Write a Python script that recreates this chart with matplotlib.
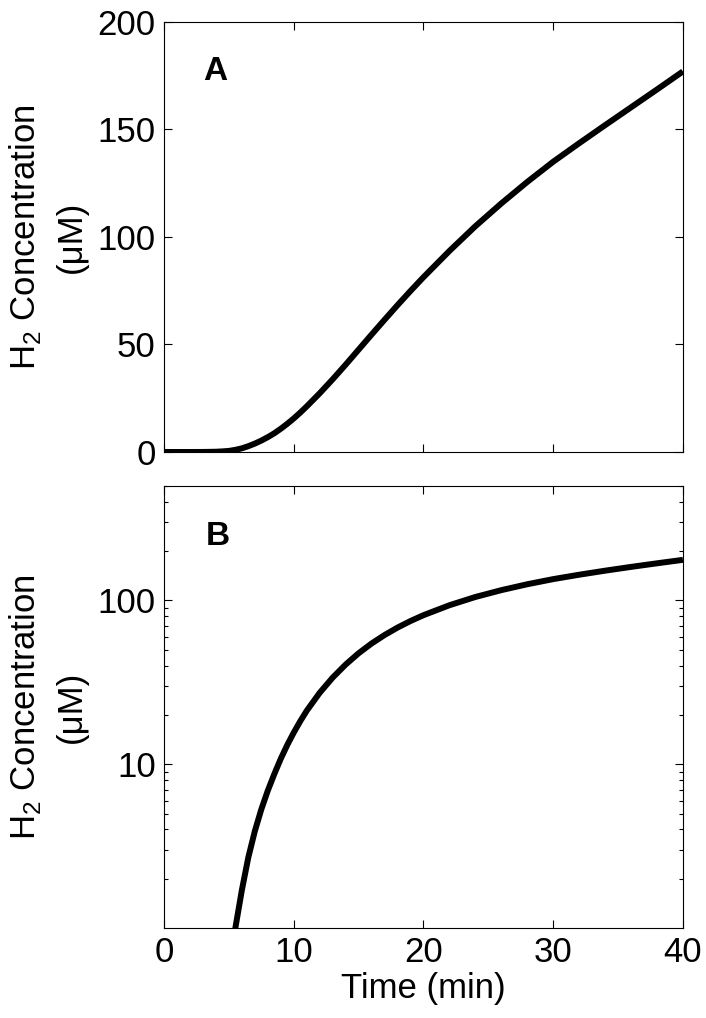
import matplotlib
matplotlib.use("Agg")
import matplotlib.pyplot as plt
from matplotlib.ticker import (FixedFormatter, FixedLocator, LogLocator,
                               NullFormatter)

# H2 concentration time course
time_min = [0, 2, 3, 4, 4.5, 5, 5.5, 6, 6.5, 7, 7.5, 8, 8.5, 9, 9.5, 10,
            10.5, 11, 12, 13, 14, 15, 16, 17, 18, 19, 20, 22, 24, 26, 28,
            30, 32, 34, 36, 38, 40]
h2_um = [0.0, 0.0, 0.02, 0.12, 0.28, 0.5, 1.0, 1.7, 2.7, 3.9, 5.3, 6.9,
         8.7, 10.8, 13.1, 15.6, 18.3, 21.2, 27.3, 33.8, 40.6, 47.6, 54.6,
         61.5, 68.3, 74.9, 81.3, 93.5, 105.0, 115.6, 125.6, 135.0, 143.6,
         152.0, 160.3, 168.6, 177.0]

x_ticks = [0, 10, 20, 30, 40]
lin_ticks = [0, 50, 100, 150, 200]
log_ticks = [10, 100]
log_tick_labels = ["10", "100"]
panel_labels = ["A", "B"]

plt.rcParams["font.family"] = ["Liberation Sans", "DejaVu Sans"]
plt.rcParams["mathtext.fontset"] = "custom"
plt.rcParams["mathtext.rm"] = "Liberation Sans"

tick_fs = 25
label_fs = 25
ylabel = "H$_2$ Concentration\n(\u03bcM)"

fig = plt.figure(figsize=(7.06, 10.18), dpi=100)
ax_a = fig.add_axes([0.2323, 0.556, 0.735, 0.4224])
ax_b = fig.add_axes([0.2323, 0.0884, 0.735, 0.4342])

for ax in (ax_a, ax_b):
    ax.plot(time_min, h2_um, color="black", lw=4.3, solid_capstyle="butt",
            solid_joinstyle="round")
    ax.set_xlim(0, 40)
    ax.xaxis.set_major_locator(FixedLocator(x_ticks))
    ax.tick_params(which="both", direction="in", top=True, right=True,
                   width=0.8, labelsize=tick_fs, pad=6)
    ax.tick_params(which="major", length=6)
    ax.tick_params(which="minor", length=3)
    for s in ax.spines.values():
        s.set_linewidth(0.8)
    ax.set_ylabel(ylabel, fontsize=label_fs, linespacing=1.45,
                  ha="center", va="center")
    ax.yaxis.set_label_coords(-0.225, 0.5)

# panel A - linear
ax_a.set_ylim(0, 200)
ax_a.yaxis.set_major_locator(FixedLocator(lin_ticks))
ax_a.tick_params(labelbottom=False)
ax_a.text(3.0, 177, panel_labels[0], fontsize=24, fontweight="bold",
          ha="left", va="center")

# panel B - log
ax_b.set_yscale("log")
ax_b.set_ylim(1, 500)
ax_b.yaxis.set_major_locator(FixedLocator(log_ticks))
ax_b.yaxis.set_major_formatter(FixedFormatter(log_tick_labels))
ax_b.yaxis.set_minor_locator(LogLocator(base=10, subs=range(2, 10)))
ax_b.yaxis.set_minor_formatter(NullFormatter())
ax_b.text(3.2, 245, panel_labels[1], fontsize=24, fontweight="bold",
          ha="left", va="center")
ax_b.set_xlabel("Time (min)", fontsize=label_fs, labelpad=2)

fig.savefig("out.png", dpi=100)
